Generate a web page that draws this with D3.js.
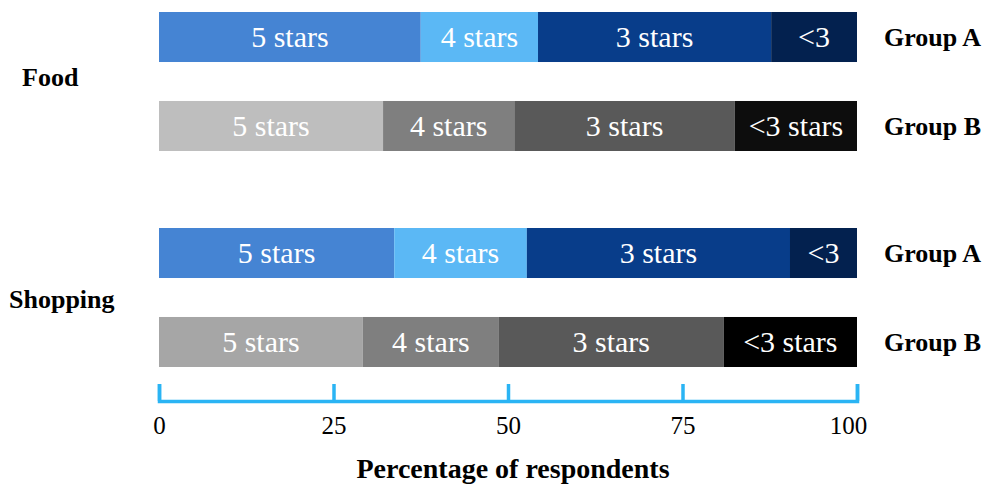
<!DOCTYPE html>
<html>
<head>
<meta charset="utf-8">
<script src="https://cdn.jsdelivr.net/npm/d3@7"></script>
<style>
  html, body { margin: 0; padding: 0; background: #fff; }
  svg { display: block; }
</style>
</head>
<body>
<svg id="chart" width="988" height="485"></svg>
<script>
// Ratings breakdown per category and group (percent of respondents)
const categories = ["Food", "Shopping"];
const groups = ["Group A", "Group B"];
const ratings = ["5 stars", "4 stars", "3 stars", "<3 stars"];
const ratingLabelsA = ["5 stars", "4 stars", "3 stars", "<3"];
const ratingLabelsB = ["5 stars", "4 stars", "3 stars", "<3 stars"];

const foodGroupA = [37.5, 16.8, 33.4, 12.3];
const foodGroupB = [32.1, 18.8, 31.6, 17.5];
const shoppingGroupA = [33.7, 19.0, 37.7, 9.6];
const shoppingGroupB = [29.2, 19.5, 32.2, 19.1];

const xTicks = [0, 25, 50, 75, 100];

const bluePalette = ["#4584d3", "#5bb8f5", "#083d8a", "#03214f"];
const foodGrayPalette = ["#bebebe", "#7f7f7f", "#595959", "#0d0d0d"];
const shoppingGrayPalette = ["#a6a6a6", "#7f7f7f", "#595959", "#000000"];

const rows = [
  { category: "Food", group: "Group A", values: foodGroupA, labels: ratingLabelsA, colors: bluePalette },
  { category: "Food", group: "Group B", values: foodGroupB, labels: ratingLabelsB, colors: foodGrayPalette },
  { category: "Shopping", group: "Group A", values: shoppingGroupA, labels: ratingLabelsA, colors: bluePalette },
  { category: "Shopping", group: "Group B", values: shoppingGroupB, labels: ratingLabelsB, colors: shoppingGrayPalette }
];

const FONT = '"Liberation Serif", "Tinos", "Times New Roman", "FreeSerif", "DejaVu Serif", serif';
const svg = d3.select("#chart").style("font-family", FONT);

const x = d3.scaleLinear().domain([0, 100]).range([159, 857]);

const yCat = d3.scaleBand().domain(categories).range([12, 367]).paddingInner(0.3565).paddingOuter(0);
const yGroup = d3.scaleBand().domain(groups).range([0, yCat.bandwidth()]).paddingInner(0.438).paddingOuter(0);

// Stack each row's segments
rows.forEach(r => {
  let acc = 0;
  r.segments = r.values.map((v, i) => {
    const s = { x0: acc, x1: acc + v, label: r.labels[i], color: r.colors[i], rating: ratings[i] };
    acc += v;
    return s;
  });
  r.y = yCat(r.category) + yGroup(r.group);
});

const rowG = svg.selectAll("g.row").data(rows).join("g")
  .attr("class", "row")
  .attr("transform", d => `translate(0,${d.y})`);

rowG.selectAll("rect").data(d => d.segments).join("rect")
  .attr("x", d => x(d.x0))
  .attr("width", d => x(d.x1) - x(d.x0))
  .attr("y", 0)
  .attr("height", yGroup.bandwidth())
  .attr("fill", d => d.color);

rowG.selectAll("text.seg").data(d => d.segments).join("text")
  .attr("class", "seg")
  .attr("x", d => (x(d.x0) + x(d.x1)) / 2)
  .attr("y", yGroup.bandwidth() / 2 + 10)
  .attr("text-anchor", "middle")
  .attr("fill", "#ffffff")
  .attr("font-size", 30)
  .style("font-family", FONT)
  .text(d => d.label);

// Group labels on the right
rowG.append("text")
  .attr("x", 884)
  .attr("y", yGroup.bandwidth() / 2 + 9)
  .attr("fill", "#000")
  .attr("font-size", 26)
  .style("font-family", FONT)
  .style("font-weight", "bold")
  .text(d => d.group);

// Category labels on the left
const catLabelX = { "Food": 22, "Shopping": 9 };
const catLabelY = { "Food": 86, "Shopping": 308 };
svg.selectAll("text.cat").data(categories).join("text")
  .attr("class", "cat")
  .attr("x", d => catLabelX[d])
  .attr("y", d => catLabelY[d])
  .attr("fill", "#000")
  .attr("font-size", 26)
  .style("font-family", FONT)
  .style("font-weight", "bold")
  .text(d => d);

// Bracket-style axis with upward ticks
const axisY = 401;
const axis = d3.axisBottom(x)
  .tickValues(xTicks)
  .tickFormat(d3.format("d"))
  .tickSizeInner(-17)
  .tickSizeOuter(-17)
  .tickPadding(15);

const axisG = svg.append("g")
  .attr("transform", `translate(0,${axisY})`)
  .call(axis)
  .attr("font-family", null)
  .attr("font-size", 25);

axisG.select(".domain")
  .attr("stroke", "#2ab4f4")
  .attr("stroke-width", 3.5)
  .attr("fill", "none");
axisG.selectAll(".tick line")
  .attr("stroke", "#2ab4f4")
  .attr("stroke-width", 3.5);
axisG.selectAll(".tick text")
  .attr("fill", "#000")
  .attr("dx", d => d === 100 ? -9 : 0)
  .attr("font-size", 25)
  .style("font-family", FONT);

svg.append("text")
  .attr("x", 513)
  .attr("y", 478)
  .attr("text-anchor", "middle")
  .attr("fill", "#000")
  .attr("font-size", 28)
  .style("font-family", FONT)
  .style("font-weight", "bold")
  .text("Percentage of respondents");
</script>
</body>
</html>
